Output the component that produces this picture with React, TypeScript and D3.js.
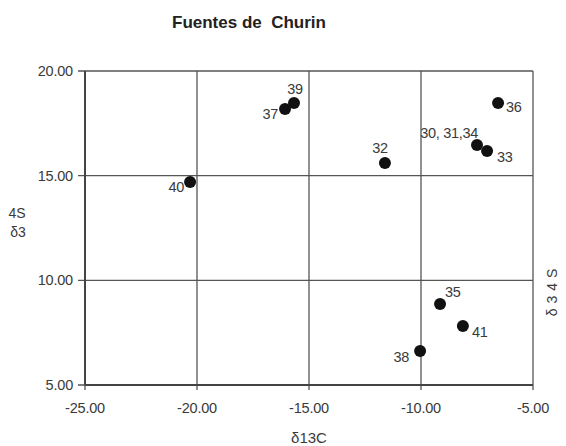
import React from "react";
import * as d3 from "d3";

const sampleIds = ["39", "37", "36", "30, 31,34", "33", "32", "40", "35", "41", "38"];
const d13C = [-15.67, -16.07, -6.56, -7.5, -7.05, -11.61, -20.31, -9.15, -8.13, -10.04];
const d34S = [18.47, 18.18, 18.47, 16.46, 16.18, 15.6, 14.7, 8.87, 7.82, 6.62];
const xTicks = [-25, -20, -15, -10, -5];
const yTicks = [5, 10, 15, 20];

// label placement (offsets from the dot, not data)
const labelPlace: Record<string, { dx: number; dy: number; anchor: string }> = {
  "39": { dx: 1, dy: -14, anchor: "middle" },
  "37": { dx: -7, dy: 5, anchor: "end" },
  "36": { dx: 8, dy: 4, anchor: "start" },
  "30, 31,34": { dx: 1, dy: -12, anchor: "end" },
  "33": { dx: 10, dy: 6, anchor: "start" },
  "32": { dx: -5, dy: -15, anchor: "middle" },
  "40": { dx: -6, dy: 5, anchor: "end" },
  "35": { dx: 5, dy: -12, anchor: "start" },
  "41": { dx: 9, dy: 6, anchor: "start" },
  "38": { dx: -11, dy: 6, anchor: "end" },
};

export default function App() {
  const W = 566, H = 446;
  const x = d3.scaleLinear().domain([-25, -5]).range([85, 533]);
  const y = d3.scaleLinear().domain([5, 20]).range([385, 71]);
  const font = "'Liberation Sans', Arial, sans-serif";
  const grid = "#555";
  const txt = "#3a3a3a";
  return (
    <svg width={W} height={H} style={{ position: "absolute", left: 0, top: 0, background: "#fff" }} fontFamily={font}>
      <rect width={W} height={H} fill="#fff" />
      <text x={249} y={22} dy="0.35em" textAnchor="middle" fontSize={17} fontWeight="bold" fill="#222" style={{ whiteSpace: "pre" }}>Fuentes de  Churin</text>
      {/* grid */}
      {xTicks.map((t) => (
        <line key={"gx" + t} x1={x(t)} x2={x(t)} y1={y(20)} y2={y(5) + 5} stroke={grid} strokeWidth={1.3} />
      ))}
      {yTicks.map((t) => (
        <line key={"gy" + t} x1={x(-25) - 7} x2={x(-5)} y1={y(t)} y2={y(t)} stroke={grid} strokeWidth={1.3} />
      ))}
      <line x1={x(-25)} x2={x(-5)} y1={y(5)} y2={y(5)} stroke="#444" strokeWidth={2} />
      <line x1={x(-25)} x2={x(-25)} y1={y(20)} y2={y(5)} stroke="#444" strokeWidth={2} />
      {yTicks.map((t) => (
        <text key={"ly" + t} x={73} y={y(t)} dy="0.35em" textAnchor="end" fontSize={14.5} fill={txt} letterSpacing={-0.2}>
          {d3.format(".2f")(t)}
        </text>
      ))}
      {xTicks.map((t) => (
        <text key={"lx" + t} x={x(t)} y={408} dy="0.35em" textAnchor="middle" fontSize={14.5} fill={txt} letterSpacing={-0.2}>
          {d3.format(".2f")(t).replace("\u2212", "-")}
        </text>
      ))}
      <text x={309} y={438} dy="0.35em" textAnchor="middle" fontSize={15} fill={txt}>δ13C</text>
      <text x={17} y={213} dy="0.35em" textAnchor="middle" fontSize={14} fill={txt}>4S</text>
      <text x={18} y={232} dy="0.35em" textAnchor="middle" fontSize={14} fill={txt}>δ3</text>
      <text transform="translate(552,290) rotate(-90)" dy="0.35em" textAnchor="middle" fontSize={14} fill={txt} letterSpacing={5}>δ34S</text>
      {sampleIds.map((id, i) => {
        const cx = x(d13C[i]);
        const cy = y(d34S[i]);
        const p = labelPlace[id];
        return (
          <g key={id}>
            <circle cx={cx} cy={cy} r={6} fill="#111" />
            <text x={cx + p.dx} y={cy + p.dy} dy="0.35em" textAnchor={p.anchor as any} fontSize={14.5} fill={txt} letterSpacing={-0.3}>
              {id}
            </text>
          </g>
        );
      })}
    </svg>
  );
}
